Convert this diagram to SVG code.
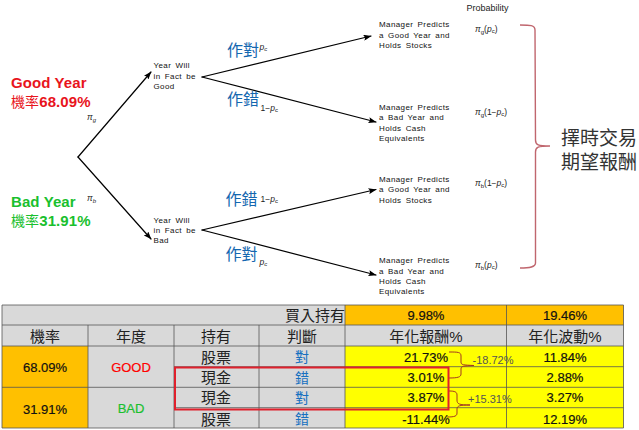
<svg xmlns="http://www.w3.org/2000/svg" width="639" height="430" viewBox="0 0 639 430">
<style>
text{font-family:"Liberation Sans","Noto Sans CJK TC",sans-serif;fill:#111}
.n{font-size:8px;letter-spacing:.4px;word-spacing:1.6px}
.m{font-size:8.500px;font-style:italic;fill:#222}
.s{font-size:8.500px;fill:#222}
.big{font-size:15px;font-weight:bold;letter-spacing:.1px}
.cj{font-size:14px;font-weight:normal}
.op{font-size:16px;fill:#1467b0}
.h{font-size:15px;text-anchor:middle;fill:#222}
.v{font-size:13px;text-anchor:middle;stroke:#111;stroke-width:.2}
.j{font-size:14px;text-anchor:middle;fill:#1670c0}
.line{stroke:#000;stroke-width:1.200;fill:none;stroke-linecap:round}
.grid{stroke:#555;stroke-width:.8;fill:none}
.brace{stroke:#a33a20;stroke-width:1;fill:none}
</style>
<defs><marker id="a" markerWidth="8" markerHeight="6" refX="7.500" refY="3" orient="auto" markerUnits="userSpaceOnUse"><path d="M0 0L8 3L0 6L1.500 3Z" fill="#000"/></marker></defs>
<rect width="639" height="430" fill="#fff"/>
<g id="connectors">
<path class="line" marker-end="url(#a)" d="M78 157L151 72"/>
<path class="line" marker-end="url(#a)" d="M78 157L151 239"/>
<path class="line" marker-end="url(#a)" d="M202 77L371 36"/>
<path class="line" marker-end="url(#a)" d="M202 77L376 122"/>
<path class="line" marker-end="url(#a)" d="M202 230L376 189.500"/>
<path class="line" marker-end="url(#a)" d="M202 230L376 275"/>
</g>
<g id="labels-left">
<text class="big" x="11" y="87.500" style="fill:#e8141c">Good Year</text>
<text class="big" x="11" y="106.500" style="fill:#e8141c"><tspan class="cj">機率</tspan>68.09%</text>
<text class="big" x="11" y="207" style="fill:#19c02e">Bad Year</text>
<text class="big" x="11" y="226" style="fill:#19c02e"><tspan class="cj">機率</tspan>31.91%</text>
<text class="m" x="87" y="120">π<tspan font-size="6" dy="2">g</tspan></text>
<text class="m" x="87" y="201">π<tspan font-size="6" dy="2">b</tspan></text>
</g>
<g id="node-good"><text class="n"><tspan x="153.500" y="68">Year Will</tspan><tspan x="153.500" y="78.500">in Fact be</tspan><tspan x="153.500" y="88.500">Good</tspan></text></g>
<g id="node-bad"><text class="n"><tspan x="153.500" y="222.500">Year Will</tspan><tspan x="153.500" y="232.500">in Fact be</tspan><tspan x="153.500" y="242.500">Bad</tspan></text></g>
<g id="branch-labels">
<text class="op" x="227" y="55.500">作對</text><text class="m" x="259.500" y="50">p<tspan font-size="6" dy="1">c</tspan></text>
<text class="op" x="227" y="104.500">作錯</text><text class="s" x="260.500" y="111">1−<tspan font-style="italic">p</tspan><tspan font-size="6" dy="1">c</tspan></text>
<text class="op" x="225.500" y="205">作錯</text><text class="s" x="260.500" y="202">1−<tspan font-style="italic">p</tspan><tspan font-size="6" dy="1">c</tspan></text>
<text class="op" x="225.500" y="260">作對</text><text class="m" x="259.500" y="265">p<tspan font-size="6" dy="1">c</tspan></text>
</g>
<g id="outcome-1"><text class="n"><tspan x="379" y="27">Manager Predicts</tspan><tspan x="379" y="37.500">a Good Year and</tspan><tspan x="379" y="47.500">Holds Stocks</tspan></text></g>
<g id="outcome-2"><text class="n"><tspan x="379" y="110">Manager Predicts</tspan><tspan x="379" y="120">a Bad Year and</tspan><tspan x="379" y="130.500">Holds Cash</tspan><tspan x="379" y="141">Equivalents</tspan></text></g>
<g id="outcome-3"><text class="n"><tspan x="379" y="182">Manager Predicts</tspan><tspan x="379" y="192">a Good Year and</tspan><tspan x="379" y="202.500">Holds Stocks</tspan></text></g>
<g id="outcome-4"><text class="n"><tspan x="379" y="263">Manager Predicts</tspan><tspan x="379" y="273.500">a Bad Year and</tspan><tspan x="379" y="283.500">Holds Cash</tspan><tspan x="379" y="294">Equivalents</tspan></text></g>
<g id="probabilities">
<text class="s" x="466.500" y="11" style="font-size:9px">Probability</text>
<text class="s" x="475" y="31.500"><tspan font-style="italic">π</tspan><tspan font-size="6" dy="2">g</tspan><tspan dy="-2">(</tspan><tspan font-style="italic">p</tspan><tspan font-size="6" dy="1">c</tspan><tspan dy="-1">)</tspan></text>
<text class="s" x="475" y="114.500"><tspan font-style="italic">π</tspan><tspan font-size="6" dy="2">g</tspan><tspan dy="-2">(1−</tspan><tspan font-style="italic">p</tspan><tspan font-size="6" dy="1">c</tspan><tspan dy="-1">)</tspan></text>
<text class="s" x="475" y="185.500"><tspan font-style="italic">π</tspan><tspan font-size="6" dy="2">b</tspan><tspan dy="-2">(1−</tspan><tspan font-style="italic">p</tspan><tspan font-size="6" dy="1">c</tspan><tspan dy="-1">)</tspan></text>
<text class="s" x="475" y="267.500"><tspan font-style="italic">π</tspan><tspan font-size="6" dy="2">b</tspan><tspan dy="-2">(</tspan><tspan font-style="italic">p</tspan><tspan font-size="6" dy="1">c</tspan><tspan dy="-1">)</tspan></text>
</g>
<g id="bracket">
<path d="M520 25C530 25 535 25 535 30L535.500 140C535.500 145 538 146 550 146C538 146 535.500 147 535.500 152L535.500 263C535.500 267 530 268 520 268" fill="none" stroke="#c0666e" stroke-width="1.400"/>
<text x="561" y="145" style="font-size:19px;fill:#333">擇時交易</text>
<text x="561" y="169" style="font-size:19px;fill:#333">期望報酬</text>
</g>
<g id="table">
<rect x="2" y="305" width="621.500" height="123" fill="#d9d9d9"/>
<rect x="345" y="305" width="278.500" height="20" fill="#ffc000"/>
<rect x="2" y="346" width="86" height="82" fill="#ffc000"/>
<rect x="345" y="346" width="278.500" height="82" fill="#ffff00"/>
<path class="grid" d="M2 305H623.500M2 325H623.500M2 346H623.500M174 366.700H623.500M2 387.300H623.500M174 407.700H623.500M2 428H623.500M2 305V428M88 325V428M174 325V428M259 325V428M345 305V428M506.500 305V428M623.500 305V428"/>
<text class="h" x="315" y="321">買入持有</text>
<text class="v" x="426" y="320">9.98%</text><text class="v" x="565" y="320">19.46%</text>
<text class="h" x="45" y="342">機率</text><text class="h" x="131" y="342">年度</text><text class="h" x="216" y="342">持有</text><text class="h" x="302" y="342">判斷</text>
<text class="h" x="426" y="342">年化報酬%</text><text class="h" x="565" y="342">年化波動%</text>
<text class="v" x="45" y="372">68.09%</text><text class="v" x="45" y="413.500">31.91%</text>
<text class="v" x="131" y="372" style="fill:#ff0000;stroke:#ff0000">GOOD</text><text class="v" x="131" y="412.500" style="fill:#19c02e;stroke:#19c02e">BAD</text>
<text class="h" x="216" y="362.500">股票</text><text class="h" x="216" y="383">現金</text><text class="h" x="216" y="403">現金</text><text class="h" x="216" y="424.500">股票</text>
<text class="j" x="302" y="362">對</text><text class="j" x="302" y="383">錯</text><text class="j" x="302" y="403">對</text><text class="j" x="302" y="424">錯</text>
<text class="v" x="426" y="362">21.73%</text><text class="v" x="426" y="382">3.01%</text><text class="v" x="426" y="402">3.87%</text><text class="v" x="426" y="423.500">-11.44%</text>
<text class="v" x="565" y="362">11.84%</text><text class="v" x="565" y="382">2.88%</text><text class="v" x="565" y="402">3.27%</text><text class="v" x="565" y="423.500">12.19%</text>
<path class="brace" d="M449 352C458 352 461 352 461 356V362C461 365 463 365 474 365.500C463 366 461 366 461 369V374C461 377 458 378 449 378"/>
<path class="brace" d="M449 391C455 391 457 392 457 395V400C457 404 459 405 470 405C459 405 457 406 457 409V413C457 416 455 417 447 417"/>
<text x="472.500" y="363.500" style="font-size:11px;fill:#555">-18.72%</text>
<text x="468" y="403" style="font-size:11px;fill:#555">+15.31%</text>
<rect x="175" y="367.500" width="273.500" height="42" fill="none" stroke="#e0202c" stroke-width="2"/>
</g>
</svg>
